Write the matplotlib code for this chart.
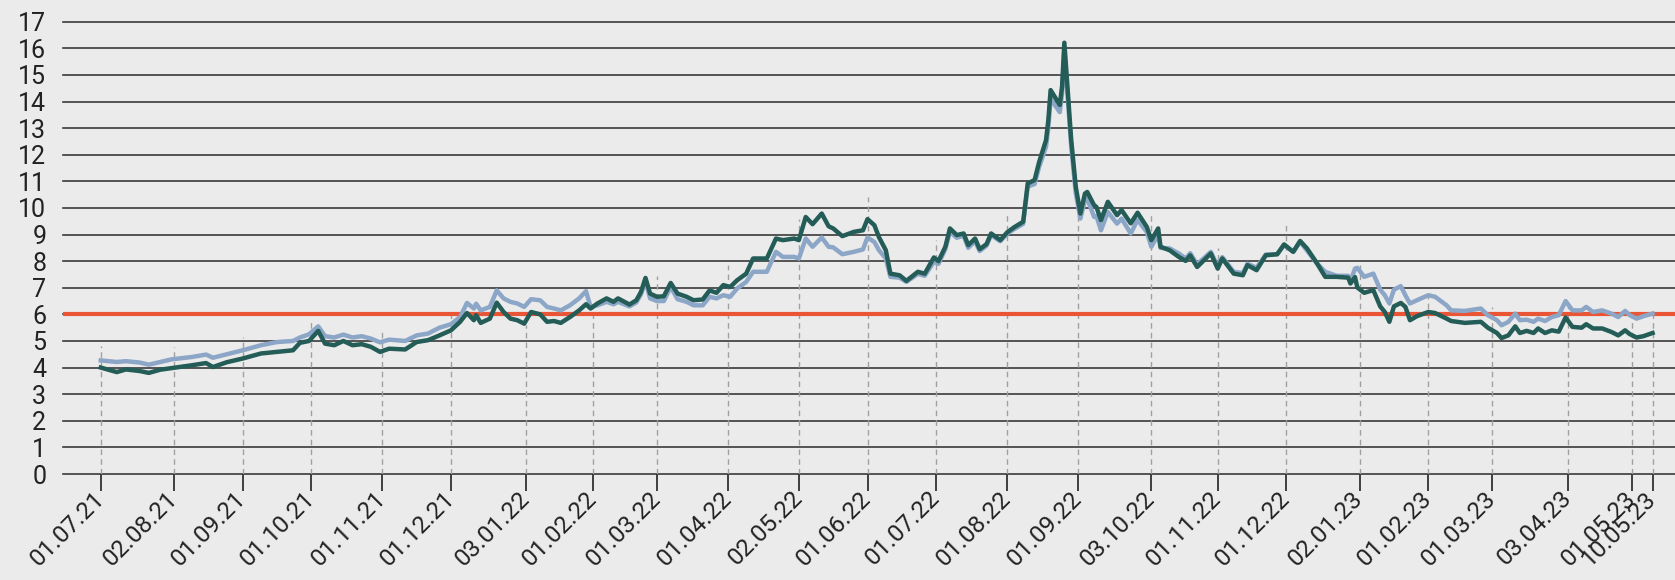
import pandas as pd
import numpy as np
import matplotlib
matplotlib.use("Agg")
import matplotlib.pyplot as plt
import matplotlib.dates as mdates

# -------- DATA --------
DATES = [
    "2021-07-01", "2021-07-08", "2021-07-12", "2021-07-18", "2021-07-22", "2021-07-27",
    "2021-08-01", "2021-08-10", "2021-08-16", "2021-08-19", "2021-08-25", "2021-09-01",
    "2021-09-09", "2021-09-16", "2021-09-23", "2021-09-26", "2021-09-30", "2021-10-04",
    "2021-10-07", "2021-10-11", "2021-10-15", "2021-10-19", "2021-10-23", "2021-10-27",
    "2021-10-31", "2021-11-04", "2021-11-11", "2021-11-16", "2021-11-21", "2021-11-26",
    "2021-12-01", "2021-12-05", "2021-12-08", "2021-12-11", "2021-12-12", "2021-12-14",
    "2021-12-18", "2021-12-21", "2021-12-24", "2021-12-27", "2021-12-30", "2022-01-02",
    "2022-01-05", "2022-01-09", "2022-01-12", "2022-01-15", "2022-01-18", "2022-01-22",
    "2022-01-26", "2022-01-29", "2022-01-31", "2022-02-03", "2022-02-07", "2022-02-10",
    "2022-02-12", "2022-02-17", "2022-02-20", "2022-02-22", "2022-02-24", "2022-02-26",
    "2022-03-01", "2022-03-04", "2022-03-07", "2022-03-10", "2022-03-14", "2022-03-17",
    "2022-03-21", "2022-03-24", "2022-03-27", "2022-03-30", "2022-04-02", "2022-04-05",
    "2022-04-09", "2022-04-12", "2022-04-18", "2022-04-22", "2022-04-25", "2022-04-30",
    "2022-05-02", "2022-05-05", "2022-05-08", "2022-05-12", "2022-05-15", "2022-05-17",
    "2022-05-21", "2022-05-26", "2022-05-30", "2022-06-01", "2022-06-04", "2022-06-06",
    "2022-06-09", "2022-06-11", "2022-06-15", "2022-06-18", "2022-06-23", "2022-06-26",
    "2022-06-30", "2022-07-02", "2022-07-05", "2022-07-07", "2022-07-10", "2022-07-13",
    "2022-07-15", "2022-07-18", "2022-07-20", "2022-07-23", "2022-07-25", "2022-07-29",
    "2022-08-01", "2022-08-04", "2022-08-08", "2022-08-10", "2022-08-13", "2022-08-15",
    "2022-08-18", "2022-08-19", "2022-08-20", "2022-08-24", "2022-08-25", "2022-08-26",
    "2022-08-29", "2022-08-31", "2022-09-02", "2022-09-04", "2022-09-05", "2022-09-08",
    "2022-09-09", "2022-09-11", "2022-09-14", "2022-09-18", "2022-09-20", "2022-09-24",
    "2022-09-27", "2022-10-01", "2022-10-03", "2022-10-06", "2022-10-07", "2022-10-11",
    "2022-10-15", "2022-10-18", "2022-10-20", "2022-10-23", "2022-10-29", "2022-11-01",
    "2022-11-03", "2022-11-08", "2022-11-12", "2022-11-14", "2022-11-18", "2022-11-22",
    "2022-11-27", "2022-11-30", "2022-12-04", "2022-12-07", "2022-12-10", "2022-12-14",
    "2022-12-18", "2022-12-23", "2022-12-28", "2022-12-29", "2022-12-31", "2023-01-01",
    "2023-01-04", "2023-01-08", "2023-01-11", "2023-01-13", "2023-01-15", "2023-01-17",
    "2023-01-20", "2023-01-22", "2023-01-24", "2023-01-27", "2023-02-01", "2023-02-04",
    "2023-02-09", "2023-02-11", "2023-02-17", "2023-02-24", "2023-02-27", "2023-03-03",
    "2023-03-05", "2023-03-08", "2023-03-11", "2023-03-13", "2023-03-16", "2023-03-19",
    "2023-03-21", "2023-03-24", "2023-03-27", "2023-03-30", "2023-04-02", "2023-04-05",
    "2023-04-09", "2023-04-11", "2023-04-14", "2023-04-18", "2023-04-22", "2023-04-25",
    "2023-04-28", "2023-04-30", "2023-05-03", "2023-05-06", "2023-05-10",
]

LIGHT = [
    4.27, 4.21, 4.24, 4.19, 4.11, 4.21,
    4.31, 4.40, 4.49, 4.37, 4.50, 4.65,
    4.84, 4.96, 5.00, 5.13, 5.25, 5.55,
    5.18, 5.13, 5.24, 5.13, 5.18, 5.09,
    4.95, 5.05, 5.00, 5.21, 5.28, 5.50,
    5.63, 5.90, 6.43, 6.22, 6.40, 6.15,
    6.28, 6.90, 6.60, 6.47, 6.41, 6.28,
    6.57, 6.53, 6.28, 6.22, 6.15, 6.34,
    6.60, 6.87, 6.28, 6.34, 6.47, 6.38,
    6.47, 6.30, 6.45, 6.75, 7.25, 6.60,
    6.50, 6.50, 7.03, 6.57, 6.47, 6.34,
    6.34, 6.66, 6.60, 6.72, 6.66, 6.97,
    7.22, 7.60, 7.60, 8.35, 8.16, 8.16,
    8.10, 8.85, 8.54, 8.89, 8.54, 8.52,
    8.26, 8.35, 8.44, 8.89, 8.72, 8.41,
    8.10, 7.41, 7.38, 7.22, 7.52, 7.45,
    7.97, 7.90, 8.45, 9.10, 8.88, 8.95,
    8.50, 8.75, 8.38, 8.58, 8.98, 8.75,
    9.03, 9.20, 9.40, 10.80, 10.90, 11.55,
    12.30, 13.00, 14.10, 13.60, 14.30, 15.90,
    12.30, 10.55, 9.60, 10.29, 10.35, 9.66,
    9.70, 9.16, 9.85, 9.41, 9.60, 9.04,
    9.55, 9.10, 8.54, 9.00, 8.50, 8.48,
    8.29, 8.10, 8.30, 7.88, 8.35, 7.80,
    8.15, 7.60, 7.55, 7.90, 7.75, 8.25,
    8.26, 8.60, 8.35, 8.72, 8.40, 7.95,
    7.60, 7.45, 7.45, 7.25, 7.72, 7.75,
    7.41, 7.53, 6.93, 6.72, 6.41, 6.93,
    7.06, 6.72, 6.41, 6.53, 6.72, 6.66,
    6.34, 6.15, 6.13, 6.22, 5.97, 5.78,
    5.59, 5.72, 6.03, 5.78, 5.80, 5.72,
    5.84, 5.75, 5.90, 5.97, 6.50, 6.15,
    6.15, 6.28, 6.09, 6.15, 6.03, 5.90,
    6.13, 5.97, 5.84, 5.93, 6.03,
]

DARK = [
    4.00, 3.83, 3.93, 3.87, 3.80, 3.92,
    3.98, 4.09, 4.17, 4.02, 4.20, 4.34,
    4.53, 4.59, 4.65, 4.93, 5.00, 5.38,
    4.90, 4.84, 5.00, 4.84, 4.88, 4.78,
    4.59, 4.71, 4.68, 4.96, 5.03, 5.21,
    5.40, 5.72, 6.05, 5.78, 5.97, 5.68,
    5.84, 6.44, 6.09, 5.84, 5.78, 5.65,
    6.09, 6.00, 5.72, 5.75, 5.68, 5.90,
    6.15, 6.38, 6.22, 6.41, 6.60, 6.47,
    6.60, 6.37, 6.53, 6.84, 7.37, 6.78,
    6.66, 6.68, 7.18, 6.78, 6.66, 6.53,
    6.56, 6.90, 6.81, 7.10, 7.03, 7.28,
    7.53, 8.10, 8.10, 8.85, 8.79, 8.85,
    8.79, 9.66, 9.39, 9.79, 9.31, 9.23,
    8.94, 9.10, 9.16, 9.58, 9.35, 8.90,
    8.41, 7.53, 7.47, 7.26, 7.60, 7.53,
    8.14, 8.00, 8.54, 9.23, 8.98, 9.04,
    8.60, 8.85, 8.45, 8.64, 9.04, 8.79,
    9.08, 9.27, 9.48, 10.92, 11.05, 11.73,
    12.55, 13.30, 14.43, 13.87, 14.56, 16.21,
    12.55, 10.79, 9.79, 10.54, 10.60, 10.10,
    10.04, 9.54, 10.23, 9.73, 9.92, 9.42,
    9.82, 9.29, 8.79, 9.23, 8.54, 8.41,
    8.16, 8.01, 8.22, 7.78, 8.29, 7.72,
    8.10, 7.53, 7.47, 7.85, 7.66, 8.22,
    8.26, 8.63, 8.35, 8.76, 8.48, 7.97,
    7.41, 7.41, 7.38, 7.16, 7.40, 7.01,
    6.81, 6.91, 6.30, 6.09, 5.72, 6.30,
    6.43, 6.28, 5.78, 5.93, 6.09, 6.05,
    5.84, 5.75, 5.68, 5.72, 5.50, 5.30,
    5.11, 5.21, 5.55, 5.30, 5.38, 5.30,
    5.47, 5.30, 5.40, 5.35, 5.88, 5.53,
    5.50, 5.63, 5.47, 5.47, 5.34, 5.21,
    5.40, 5.26, 5.13, 5.18, 5.30,
]

TICK_DATES = [
    "2021-07-01", "2021-08-02", "2021-09-01", "2021-10-01", "2021-11-01", "2021-12-01",
    "2022-01-03", "2022-02-01", "2022-03-01", "2022-04-01", "2022-05-02", "2022-06-01",
    "2022-07-01", "2022-08-01", "2022-09-01", "2022-10-03", "2022-11-01", "2022-12-01",
    "2023-01-02", "2023-02-01", "2023-03-01", "2023-04-03", "2023-05-01", "2023-05-10",
]
TICK_LABELS = [
    "01.07.21", "02.08.21", "01.09.21", "01.10.21", "01.11.21", "01.12.21",
    "03.01.22", "01.02.22", "01.03.22", "01.04.22", "02.05.22", "01.06.22",
    "01.07.22", "01.08.22", "01.09.22", "03.10.22", "01.11.22", "01.12.22",
    "02.01.23", "01.02.23", "01.03.23", "03.04.23", "01.05.23", "10.05.23",
]
# height of the dashed drop line above each tick date
DROP_TOP = [
    4.80, 4.77, 5.15, 5.78, 5.40, 6.09,
    5.60, 6.34, 7.43, 7.85, 9.60, 10.42,
    8.79, 9.79, 9.79, 9.79, 8.48, 9.35,
    7.85, 6.84, 6.28, 6.52, 5.85, 5.97,
]
THRESHOLD = 6
# ------------------------------------------------

BG = "#ebebeb"
DARK_C = "#245c57"
LIGHT_C = "#8ca6c7"
RED_C = "#ea5536"

plt.rcParams["font.family"] = ["Roboto", "DejaVu Sans"]

dates = pd.to_datetime(DATES)
ticks = pd.to_datetime(TICK_DATES)

fig = plt.figure(figsize=(16.75, 5.8), dpi=100, facecolor=BG)
ax = fig.add_axes([63 / 1675, 106 / 580, 1 - 63 / 1675, (474 - 21.7) / 580])
ax.set_facecolor(BG)

# dashed drop lines at each labelled date
ax.vlines(ticks, 0, DROP_TOP, colors="#a0a0a0", linestyles=(0, (4, 3)), lw=1, zorder=1)
ax.axhline(THRESHOLD, color=RED_C, lw=3, zorder=2)
ax.plot(dates, LIGHT, color=LIGHT_C, lw=3.2, zorder=3, solid_joinstyle="round")
ax.plot(dates, DARK, color=DARK_C, lw=3.2, zorder=4, solid_joinstyle="round")

x0 = mdates.date2num(pd.Timestamp("2021-07-01"))
ax.set_xlim(x0 - 16.5, x0 + 687.8)
ax.set_ylim(0, 17)

ax.set_yticks(range(18))
ax.set_yticklabels([str(v) for v in range(18)])
ax.grid(axis="y", color="#3a3a3a", lw=1.2, zorder=0)
for gl in ax.get_ygridlines():
    gl.set_clip_on(False)
ax.set_axisbelow(True)

ax.set_xticks(ticks)
ax.set_xticklabels(TICK_LABELS, rotation=45, ha="right", va="center", rotation_mode="anchor")

ax.tick_params(axis="y", length=0, pad=12, labelsize=18, labelcolor="#222222")
ax.tick_params(axis="x", length=12, width=1.2, color="#222222", pad=3,
               labelsize=17.5, labelcolor="#222222")

for s in ax.spines.values():
    s.set_visible(False)

fig.savefig("out.png", dpi=100, facecolor=BG)
